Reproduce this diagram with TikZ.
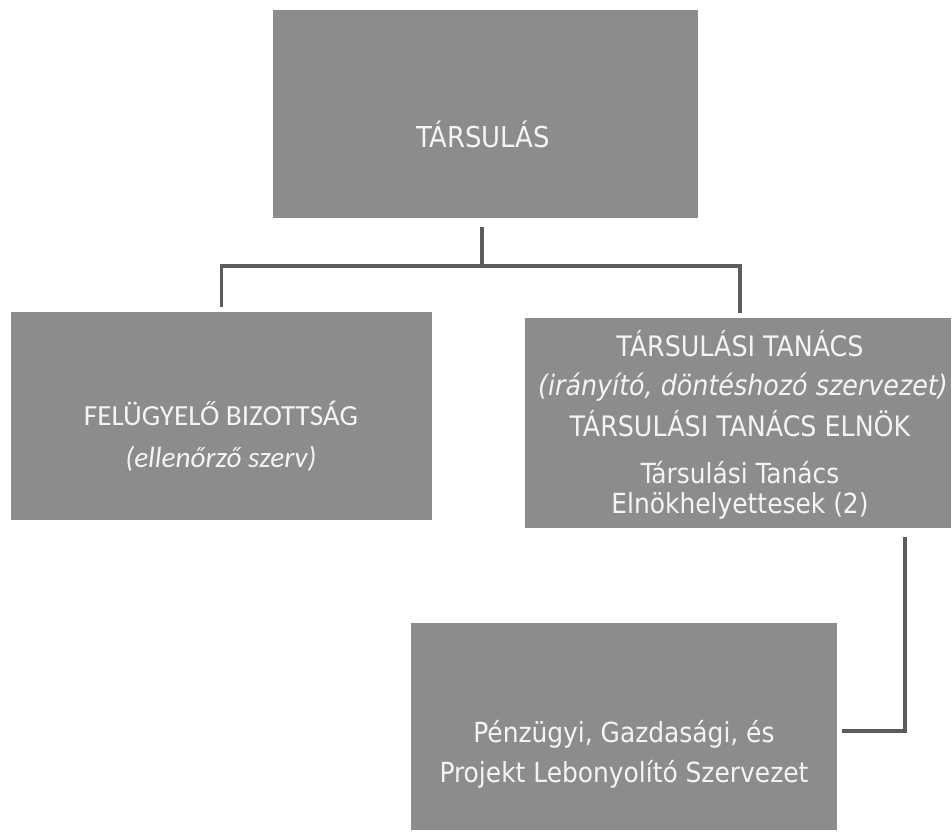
\documentclass[tikz,border=0pt]{standalone}
\usepackage{fontspec}
\setmainfont{DejaVu Sans Condensed}
\newfontfamily\calfont{Carlito}
\definecolor{boxgray}{RGB}{140,140,140}
\definecolor{linegray}{RGB}{92,92,92}
\definecolor{txt}{RGB}{244,244,244}
\tikzset{
  box/.style={draw=none, fill=boxgray, rectangle, inner sep=0pt},
  conn/.style={draw=linegray, line width=3.5pt},
  lbl/.style={text=txt, anchor=base, inner sep=0pt},
  bigf/.style={font=\fontsize{28.8}{32}\selectfont},
  midf/.style={font=\fontsize{28.2}{32}\selectfont},
  smlf/.style={font=\fontsize{27.7}{32}\selectfont},
  calf/.style={font=\calfont\fontsize{29.2}{33}\selectfont},
  calif/.style={font=\calfont\itshape\fontsize{29.2}{33}\selectfont}
}
\begin{document}
\begin{tikzpicture}[x=1pt,y=-1pt]
\useasboundingbox (0,0) rectangle (952,833);
% boxes
\node[box, minimum width=425pt, minimum height=208pt] (top) at (485.5,114) {};
\node[box, minimum width=421pt, minimum height=208pt] (fb) at (221.5,416) {};
\node[box, minimum width=426pt, minimum height=210pt] (rt) at (738,423) {};
\node[box, minimum width=426pt, minimum height=207pt] (pz) at (624,726.5) {};
% texts
\node[lbl, bigf] (t1) at (483,147) {TÁRSULÁS};
\node[lbl, calf] (f1) at (221,425) {FELÜGYELŐ BIZOTTSÁG};
\node[lbl, calif] (f2) at (221,467) {(ellenőrző szerv)};
\node[lbl, midf] (r1) at (740,356) {TÁRSULÁSI TANÁCS};
\node[lbl, font=\itshape\fontsize{28.2}{32}\selectfont] (r2) at (743,395) {(irányító, döntéshozó szervezet)};
\node[lbl, midf] (r3) at (740,436) {TÁRSULÁSI TANÁCS ELNÖK};
\node[lbl, smlf] (r4) at (740,483) {Társulási Tanács};
\node[lbl, smlf] (r5) at (740,513) {Elnökhelyettesek (2)};
\node[lbl, smlf] (p1) at (624,742) {Pénzügyi, Gazdasági, és};
\node[lbl, smlf] (p2) at (624,782) {Projekt Lebonyolító Szervezet};
% connectors
\coordinate (bar) at (482,266);
\draw[conn] ([xshift=-3.5pt,yshift=-9pt]top.south) -- (bar);
\draw[conn] (bar) -| ([yshift=5pt]fb.north);
\draw[conn] (bar) -| ([xshift=2pt,yshift=5pt]rt.north);
\draw[conn] ([xshift=167pt,yshift=-9pt]rt.south) |- ([xshift=5pt,yshift=-4.5pt]pz.east);
\end{tikzpicture}
\end{document}
